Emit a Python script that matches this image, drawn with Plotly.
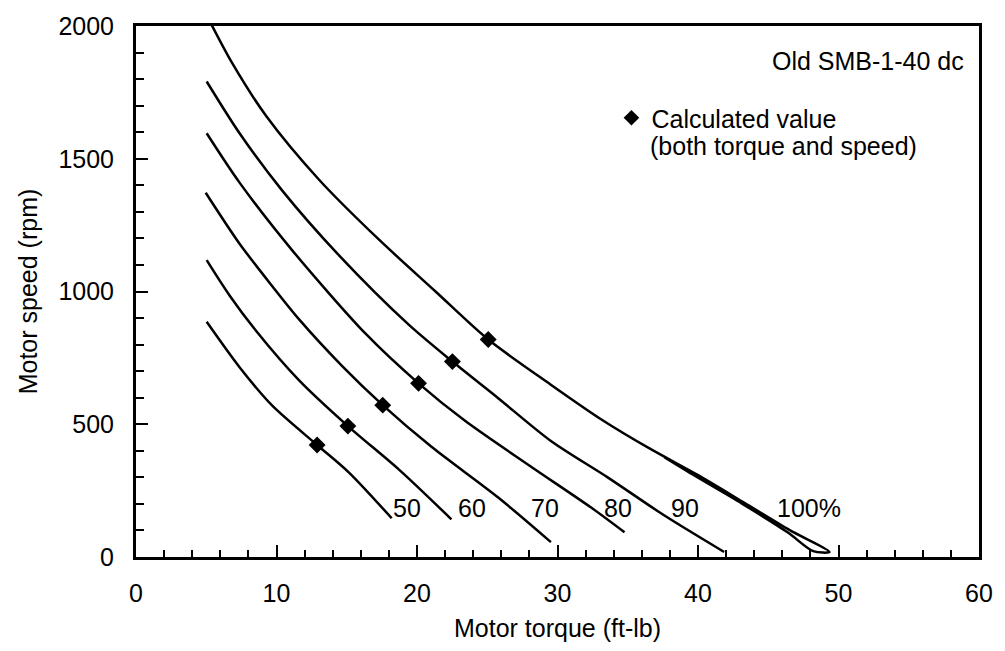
import plotly.graph_objects as go

# ---- data (torque in ft-lb, speed in rpm) ----
# 100 % curve: loading sweep followed by the short return sweep (hysteresis loop near the end)
torque_100 = [5.17, 6.87, 9.28, 13.03, 17.28, 21.32, 25.07, 29.50, 33.07, 36.61, 39.94, 43.27, 46.53, 49.36,
              48.20, 46.40, 43.10, 39.80, 37.60]
speed_100 = [2026, 1858, 1660, 1421, 1196, 1000, 819, 650, 520, 407, 310, 205, 101, 19,
             22, 92, 202, 305, 376]

torque_90 = [5.03, 7.37, 10.41, 14.45, 19.41, 22.52, 25.78, 29.53, 33.57, 37.50, 41.86]
speed_90 = [1791, 1596, 1380, 1136, 875, 736, 598, 437, 300, 160, 19]

torque_80 = [5.03, 7.37, 11.12, 16.36, 20.11, 23.44, 28.12, 32.37, 34.77]
speed_80 = [1596, 1410, 1155, 840, 654, 512, 340, 187, 93]

torque_70 = [4.96, 7.37, 9.70, 11.61, 14.66, 17.56, 21.03, 25.78, 29.53]
speed_70 = [1372, 1180, 1020, 895, 720, 572, 415, 224, 56]

torque_60 = [5.03, 6.66, 8.57, 11.61, 15.08, 18.70, 22.45]
speed_60 = [1118, 985, 850, 665, 493, 330, 142]

torque_50 = [5.03, 7.37, 9.70, 12.89, 15.16, 18.20]
speed_50 = [886, 715, 570, 422, 318, 146]

calc_torque = [12.89, 15.08, 17.56, 20.11, 22.52, 25.07]
calc_speed = [422, 493, 572, 654, 736, 819]

curve_labels = ["50", "60", "70", "80", "90", "100%"]
label_torque = [19.3, 23.9, 29.1, 34.3, 39.1, 47.9]
label_speed = [183, 183, 183, 183, 183, 183]

x_ticks = [0, 10, 20, 30, 40, 50, 60]
y_ticks = [0, 500, 1000, 1500, 2000]

FONT = "Liberation Sans"
FS = 25

fig = go.Figure()
curves = [(torque_50, speed_50), (torque_60, speed_60), (torque_70, speed_70),
          (torque_80, speed_80), (torque_90, speed_90), (torque_100, speed_100)]
for (tx, sy), name in zip(curves, curve_labels):
    fig.add_trace(go.Scatter(x=tx, y=sy, mode="lines", name=name,
                             line=dict(color="black", width=2.5, shape="spline", smoothing=0.8),
                             showlegend=False, hoverinfo="skip"))

fig.add_trace(go.Scatter(x=calc_torque, y=calc_speed, mode="markers",
                         name="Calculated value",
                         marker=dict(symbol="diamond", size=13, color="black"),
                         showlegend=True))

for lbl, lx, ly in zip(curve_labels, label_torque, label_speed):
    fig.add_annotation(x=lx, y=ly, text=lbl, showarrow=False, xref="x", yref="y",
                       font=dict(family=FONT, size=FS, color="black"))

fig.add_annotation(x=0.984, y=0.935, xref="paper", yref="paper", xanchor="right", yanchor="middle",
                   text="Old SMB-1-40 dc", showarrow=False,
                   font=dict(family=FONT, size=FS, color="black"))
fig.add_annotation(x=0.607, y=0.774, xref="paper", yref="paper", xanchor="left", yanchor="middle",
                   text="(both torque and speed)", showarrow=False,
                   font=dict(family=FONT, size=FS, color="black"))

fig.update_layout(
    width=1005, height=651,
    margin=dict(l=136, r=22, t=22, b=94),
    paper_bgcolor="white", plot_bgcolor="white",
    font=dict(family=FONT, size=FS, color="black"),
    showlegend=True,
    legend=dict(x=0.564, y=0.87, xanchor="left", yanchor="top", bgcolor="rgba(0,0,0,0)",
                font=dict(family=FONT, size=FS, color="black"), itemsizing="constant"),
)
fig.update_xaxes(range=[0, 60], tickvals=x_ticks, ticktext=[str(v) for v in x_ticks],
                 ticks="inside", ticklen=12, tickwidth=2, tickcolor="black",
                 minor=dict(ticks="inside", ticklen=7, dtick=2, tickwidth=2, tickcolor="black"),
                 showline=True, linewidth=3, linecolor="black", mirror=True,
                 showgrid=False, zeroline=False,
                 ticklabelstandoff=12,
                 title=dict(text="Motor torque (ft-lb)", standoff=14,
                            font=dict(family=FONT, size=FS, color="black")),
                 tickfont=dict(family=FONT, size=FS, color="black"))
fig.update_yaxes(range=[0, 2000], tickvals=y_ticks, ticktext=[str(v) for v in y_ticks],
                 ticks="inside", ticklen=12, tickwidth=2, tickcolor="black",
                 minor=dict(ticks="inside", ticklen=8, dtick=100, tickwidth=2, tickcolor="black"),
                 showline=True, linewidth=3, linecolor="black", mirror=True,
                 showgrid=False, zeroline=False,
                 ticklabelstandoff=14,
                 title=dict(text="Motor speed (rpm)", standoff=14,
                            font=dict(family=FONT, size=FS, color="black")),
                 tickfont=dict(family=FONT, size=FS, color="black"))

fig.write_html("out.html")
